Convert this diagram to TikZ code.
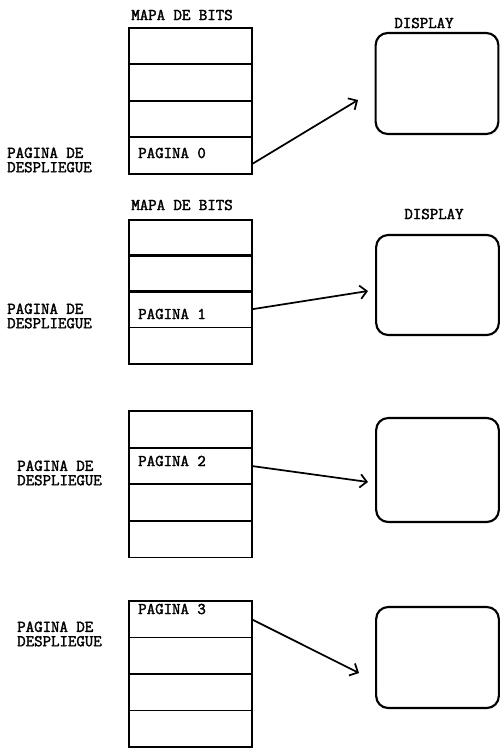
\documentclass[tikz,border=0pt]{standalone}
\usepackage{fontspec}
\setmonofont{Latin Modern Mono}[AutoFakeBold=2.2]
\usetikzlibrary{arrows.meta}
\begin{document}
\begin{tikzpicture}[x=0.75pt,y=-0.75pt,
  txt/.style={font=\ttfamily\bfseries\fontsize{12.3}{10.8}\selectfont, inner sep=0pt},
  side/.style={txt, align=left, anchor=west},
  cell/.style={draw, line width=1.3pt, minimum width=92.25pt, minimum height=27.4pt,
    inner sep=0pt, anchor=north west},
  screen/.style={draw, line width=1.6pt, rounded corners=9pt, minimum width=92pt, inner sep=0pt},
  link/.style={line width=1.3pt, -{Straight Barb[length=5pt,width=10pt,line width=1.3pt]}}]
\useasboundingbox (0,0) rectangle (500,748);

% ---- page 0 ----
\node[txt] (m1) at (182,15) {MAPA DE BITS};
\node[txt] (d1lab) at (424,23) {DISPLAY};
\foreach \i/\y in {1/27,2/63.5,3/100,4/136.5} \node[cell] (a\i) at (128,\y) {};
\node[txt, anchor=west] (p0) at (138,153) {PAGINA 0};
\node[side] (s1) at (7,160) {PAGINA DE\\DESPLIEGUE};
\node[screen, minimum height=75.75pt] (scr1) at (437,83.5) {};
\coordinate (t1) at (358,100);
\draw[link] ([yshift=-6pt]a4.east) -- (t1);

% ---- page 1 ----
\node[txt] (m2) at (182,205) {MAPA DE BITS};
\node[txt] (d2lab) at (434,214) {DISPLAY};
\foreach \i/\y in {1/219,2/254.5,3/290,4/326.5} \node[cell] (b\i) at (128,\y) {};
\node[txt, anchor=west] (p1) at (138,314) {PAGINA 1};
\node[side] (s2) at (7,316) {PAGINA DE\\DESPLIEGUE};
\node[screen, minimum height=75pt] (scr2) at (437.5,285) {};
\coordinate (t2) at (368,291);
\draw[link] (b3.east) -- (t2);

% ---- page 2 ----
\foreach \i/\y in {1/410,2/447,3/483,4/520} \node[cell] (c\i) at (128,\y) {};
\node[txt, anchor=west] (p2) at (138,461) {PAGINA 2};
\node[side] (s3) at (17,473) {PAGINA DE\\DESPLIEGUE};
\node[screen, minimum height=78pt] (scr3) at (437.5,470) {};
\coordinate (t3) at (368,482);
\draw[link] (c2.east) -- (t3);

% ---- page 3 ----
\foreach \i/\y in {1/600,2/636.5,3/673,4/709.5} \node[cell] (d\i) at (128,\y) {};
\node[txt, anchor=west] (p3) at (138,609) {PAGINA 3};
\node[side] (s4) at (17,634) {PAGINA DE\\DESPLIEGUE};
\node[screen, minimum height=75.75pt] (scr4) at (437.5,657.5) {};
\coordinate (t4) at (359,673);
\draw[link] ([yshift=-0.5pt]d1.east) -- (t4);
\end{tikzpicture}
\end{document}
